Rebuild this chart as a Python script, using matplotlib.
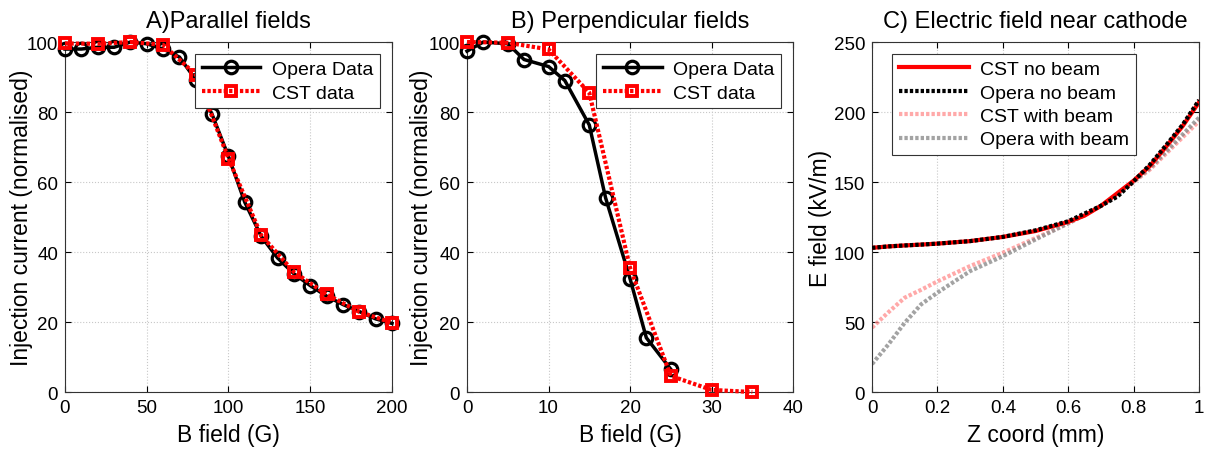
import numpy as np
import matplotlib
matplotlib.use('Agg')
import matplotlib.pyplot as plt

plt.rcParams['font.family'] = ['Liberation Sans', 'DejaVu Sans']

# A) parallel fields
par_opera_b = [0, 10, 20, 30, 40, 50, 60, 70, 80, 90, 100, 110, 120, 130, 140, 150, 160, 170, 180, 190, 200]
par_opera_i = [98, 98, 98.5, 98.5, 100, 99.5, 98, 95.7, 89.2, 79.3, 67.3, 54.2, 44.5, 38.3, 33.8, 30.4, 27.4, 25, 23, 20.9, 19.6]
par_cst_b = [0, 20, 40, 60, 80, 100, 120, 140, 160, 180, 200]
par_cst_i = [99.6, 99.5, 100, 99.2, 90.7, 66.7, 44.8, 34.3, 27.9, 22.9, 19.8]

# B) perpendicular fields
perp_opera_b = [0, 2, 5, 7, 10, 12, 15, 17, 20, 22, 25]
perp_opera_i = [97.4, 100, 99.5, 95, 93, 89, 76.3, 55.5, 32.4, 15.5, 6.5]
perp_cst_b = [0, 5, 10, 15, 20, 25, 30, 35]
perp_cst_i = [100, 99.8, 97.9, 85.5, 35.5, 4.6, 0.6, 0]

# C) electric field near cathode
z = [0, 0.05, 0.1, 0.15, 0.2, 0.3, 0.4, 0.5, 0.6, 0.65, 0.7, 0.75, 0.8, 0.85, 0.9, 0.95, 1.0]
e_cst_nobeam = [103, 104, 104.7, 105.3, 106, 107.8, 110.8, 115, 121.5, 126, 133, 142, 151, 161.5, 175.5, 190, 207]
e_opera_nobeam = [103, 104, 104.7, 105.3, 106, 107.8, 110.8, 115.5, 122, 127.5, 133, 139.5, 150.5, 162.5, 176.5, 191, 208.5]
e_cst_beam = [46, 57, 67.4, 73, 79, 90, 99.5, 110, 120.5, 126.5, 133, 141, 150, 159, 170.5, 182, 193.5]
e_opera_beam = [20, 34, 49.5, 62.6, 71, 86.4, 97, 109, 120.5, 126.5, 133, 141, 150.5, 160, 172, 184, 196]

dots = (0, (0.8, 0.5))

fig = plt.figure(figsize=(12.08, 4.52), dpi=100)
axA = fig.add_axes([0.0538, 0.1305, 0.2707, 0.7743])
axB = fig.add_axes([0.3866, 0.1305, 0.2699, 0.7743])
axC = fig.add_axes([0.7219, 0.1305, 0.2707, 0.7743])

def style(ax, ylab_x):
    ax.grid(True, color='#c8c8c8', linestyle=':', linewidth=0.8)
    ax.tick_params(direction='in', labelsize=13.5, length=4, top=True, right=True,
                   labeltop=False, labelright=False, pad=5)
    for s in ax.spines.values():
        s.set_color('#333333')
        s.set_linewidth(0.8)
    ax.set_axisbelow(True)
    ax.xaxis.set_label_coords(0.5, -0.088)
    ax.yaxis.set_label_coords(ylab_x, 0.5)

def current_panel(ax, ob, oi, cb, ci, title, xmax, xticks, ylab_x):
    ax.plot(ob, oi, '-o', color='black', lw=2.5, ms=9, mfc='none', mew=2.3,
            label='Opera Data', clip_on=False, zorder=3)
    ax.plot(cb, ci, 's', linestyle=dots, color='red', lw=3, ms=7, mfc='none', mew=2.8,
            label='CST data', clip_on=False, zorder=4)
    ax.set_xlim(0, xmax)
    ax.set_ylim(0, 100)
    ax.set_xticks(xticks)
    ax.set_yticks([0, 20, 40, 60, 80, 100])
    ax.set_xlabel('B field (G)', fontsize=16.5)
    ax.set_ylabel('Injection current (normalised)', fontsize=16.5)
    ax.set_title(title, fontsize=17, pad=11)
    leg = ax.legend(loc='upper right', fontsize=14, fancybox=False, framealpha=1,
                    edgecolor='#333333', handlelength=3.0, borderaxespad=0.6,
                    labelspacing=0.3, borderpad=0.35, handletextpad=0.6)
    leg.get_frame().set_linewidth(0.8)
    leg.set_zorder(10)
    style(ax, ylab_x)

current_panel(axA, par_opera_b, par_opera_i, par_cst_b, par_cst_i,
              'A)Parallel fields', 200, [0, 50, 100, 150, 200], -0.098)
current_panel(axB, perp_opera_b, perp_opera_i, perp_cst_b, perp_cst_i,
              'B) Perpendicular fields', 40, [0, 10, 20, 30, 40], -0.104)

axC.plot(z, e_cst_beam, linestyle=dots, color='#ff8c8c', lw=3, alpha=0.75, label='CST with beam', zorder=2)
axC.plot(z, e_opera_beam, linestyle=dots, color='#8c8c8c', lw=3, alpha=0.8, label='Opera with beam', zorder=2)
axC.plot(z, e_cst_nobeam, '-', color='red', lw=3, label='CST no beam', zorder=3)
axC.plot(z, e_opera_nobeam, linestyle=dots, color='black', lw=3, label='Opera no beam', zorder=4)
axC.set_xlim(0, 1)
axC.set_ylim(0, 250)
axC.set_xticks([0, 0.2, 0.4, 0.6, 0.8, 1])
axC.set_xticklabels(['0', '0.2', '0.4', '0.6', '0.8', '1'])
axC.set_yticks([0, 50, 100, 150, 200, 250])
axC.set_xlabel('Z coord (mm)', fontsize=16.5)
axC.set_ylabel('E field (kV/m)', fontsize=16.5)
axC.set_title('C) Electric field near cathode', fontsize=17, pad=11)
h, l = axC.get_legend_handles_labels()
order = [2, 3, 0, 1]
leg = axC.legend([h[i] for i in order], [l[i] for i in order], loc='upper left',
                 fontsize=14, fancybox=False, framealpha=1, edgecolor='#333333',
                 handlelength=3.6, borderaxespad=0.6, labelspacing=0.3, borderpad=0.35,
                 handletextpad=0.6, bbox_to_anchor=(0.025, 1.0))
leg.get_frame().set_linewidth(0.8)
style(axC, -0.122)

fig.savefig('out.png', dpi=100)
